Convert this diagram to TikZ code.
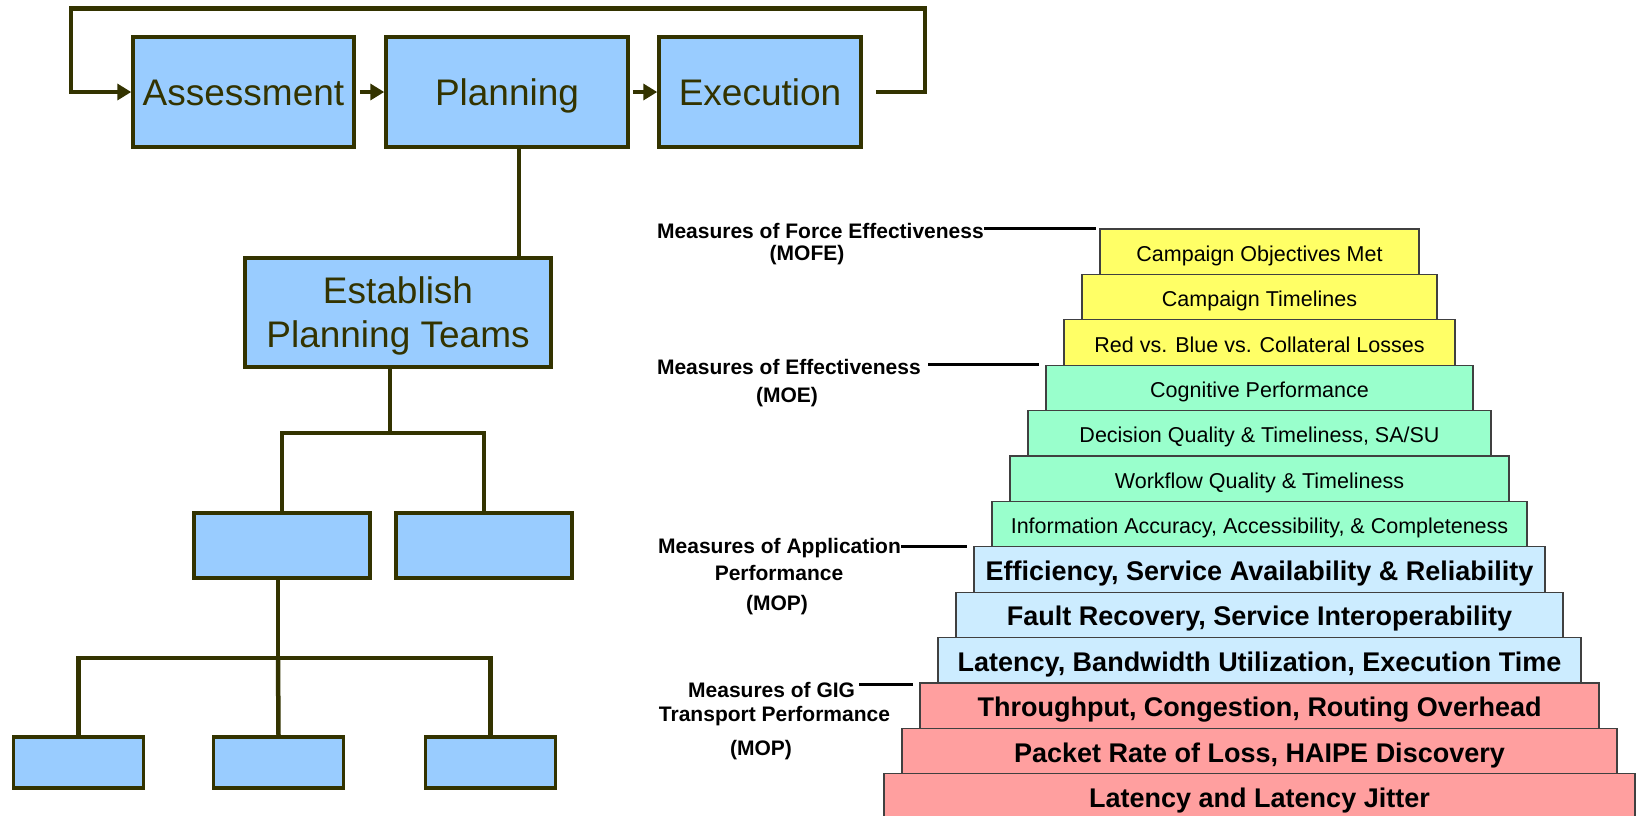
\documentclass[tikz,border=0pt]{standalone}
\usepackage{fontspec}
\setmainfont{Liberation Sans}
\usetikzlibrary{arrows.meta}
\definecolor{darkol}{RGB}{51,51,0}
\definecolor{boxblue}{RGB}{153,204,255}
\definecolor{pyY}{RGB}{255,255,102}
\definecolor{pyG}{RGB}{153,255,204}
\definecolor{pyB}{RGB}{204,236,255}
\definecolor{pyR}{RGB}{255,159,159}
\begin{document}
\begin{tikzpicture}[x=1pt,y=-1pt,
  flowbox/.style={draw=darkol, line width=3.5pt, fill=boxblue, inner sep=0pt,
    text=darkol, font=\fontsize{37}{44}\selectfont, align=center},
  oneline/.style={text height=27pt, text depth=0pt},
  conn/.style={draw=darkol, line width=4.5pt},
  arr/.style={conn, -{Triangle[length=14pt,width=16pt]}},
  layer/.style={draw=black!75, line width=1.2pt, minimum height=45.4pt, inner sep=0pt, text=black},
  small/.style={font=\fontsize{21.5}{24}\selectfont, text height=19.2pt, text depth=0pt},
  big/.style={font=\bfseries\fontsize{27}{30}\selectfont, text height=22pt, text depth=0pt},
  lab/.style={font=\bfseries\fontsize{21}{24}\selectfont, inner sep=0pt, text height=15pt, text depth=0pt},
  labline/.style={draw=black, line width=3pt}]
\useasboundingbox (0,0) rectangle (1640,815);

% top flow
\node[flowbox, oneline, minimum width=221pt, minimum height=110pt] (assess) at (243.5,92) {Assessment};
\node[flowbox, oneline, minimum width=242pt, minimum height=110pt] (plan) at (507,92) {Planning};
\node[flowbox, oneline, minimum width=202pt, minimum height=110pt] (exec) at (760,92) {Execution};
\node[flowbox, text depth=0pt, minimum width=306pt, minimum height=109pt] (estab) at (398,312.5) {Establish\\Planning Teams};
\node[flowbox, minimum width=176pt, minimum height=65pt] (mid1) at (282,545.5) {};
\node[flowbox, minimum width=176pt, minimum height=65pt] (mid2) at (484,545.5) {};
\node[flowbox, minimum width=130pt, minimum height=51pt] (bot1) at (78.5,762.5) {};
\node[flowbox, minimum width=130pt, minimum height=51pt] (bot2) at (278.5,762.5) {};
\node[flowbox, minimum width=130pt, minimum height=51pt] (bot3) at (490.5,762.5) {};

\coordinate (lpR) at (925,8.5);
\coordinate (lpL) at (71,8.5);
\draw[arr] ([xshift=13pt]exec.east) -| (lpR) -- (lpL) |- (assess.west);
\draw[arr] ([xshift=4pt]assess.east) -- (plan.west);
\draw[arr] ([xshift=3pt]plan.east) -- (exec.west);

\coordinate (st) at (519,0);
\draw[conn] (st |- plan.south) -- (st |- estab.north);
\coordinate (j1) at (390,433);
\draw[conn] (j1 |- estab.south) -- (j1);
\draw[conn] (mid1.north) |- (j1) -| (mid2.north);
\coordinate (j2) at (278,658);
\draw[conn] (j2 |- mid1.south) -- (j2);
\draw[conn] (bot1.north) |- (j2) -| (bot3.north);
\draw[conn] (j2) -- (bot2.north);

% pyramid
\node[layer,small,fill=pyY,minimum width=319pt] (L0) at (1259.5,251.7) {Campaign Objectives Met};
\node[layer,small,fill=pyY,minimum width=355pt] (L1) at (1259.5,297.1) {Campaign Timelines};
\node[layer,small,fill=pyY,minimum width=391pt] (L2) at (1259.5,342.5) {Red vs. Blue vs. Collateral Losses};
\node[layer,small,fill=pyG,minimum width=427pt] (L3) at (1259.5,387.9) {Cognitive Performance};
\node[layer,small,fill=pyG,minimum width=463pt] (L4) at (1259.5,433.3) {Decision Quality \& Timeliness, SA/SU};
\node[layer,small,fill=pyG,minimum width=499pt] (L5) at (1259.5,478.7) {Workflow Quality \& Timeliness};
\node[layer,small,fill=pyG,minimum width=535pt] (L6) at (1259.5,524.1) {Information Accuracy, Accessibility, \& Completeness};
\node[layer,big,fill=pyB,minimum width=571pt] (L7) at (1259.5,569.5) {Efficiency, Service Availability \& Reliability};
\node[layer,big,fill=pyB,minimum width=607pt] (L8) at (1259.5,614.9) {Fault Recovery, Service Interoperability};
\node[layer,big,fill=pyB,minimum width=643pt] (L9) at (1259.5,660.3) {Latency, Bandwidth Utilization, Execution Time};
\node[layer,big,fill=pyR,minimum width=679pt] (L10) at (1259.5,705.7) {Throughput, Congestion, Routing Overhead};
\node[layer,big,fill=pyR,minimum width=715pt] (L11) at (1259.5,751.1) {Packet Rate of Loss, HAIPE Discovery};
\node[layer,big,fill=pyR,minimum width=751pt] (L12) at (1259.5,796.5) {Latency and Latency Jitter};

% labels
\node[lab, anchor=east] (m1) at (984,231) {Measures of Force Effectiveness};
\node[lab] (m1b) at (807,253) {(MOFE)};
\node[lab, anchor=east] (m2) at (921,366.5) {Measures of Effectiveness};
\node[lab] (m2b) at (787,395) {(MOE)};
\node[lab, anchor=west] (m3) at (658,546) {Measures of Application};
\node[lab] (m3b) at (779,573) {Performance};
\node[lab] (m3c) at (777,603) {(MOP)};
\node[lab, anchor=west] (m4) at (688,690) {Measures of GIG};
\node[lab] (m4b) at (774.5,714) {Transport Performance};
\node[lab] (m4c) at (761,748) {(MOP)};

\coordinate (c1) at (1096,228);
\coordinate (c2) at (1039,364);
\coordinate (c3) at (966.5,546);
\coordinate (c4) at (913,684);
\draw[labline] (c1 -| m1.east) -- (c1);
\draw[labline] ([xshift=7pt]c2 -| m2.east) -- (c2);
\draw[labline] (c3 -| m3.east) -- (c3);
\draw[labline] ([xshift=4pt]c4 -| m4.east) -- (c4);
\end{tikzpicture}
\end{document}
